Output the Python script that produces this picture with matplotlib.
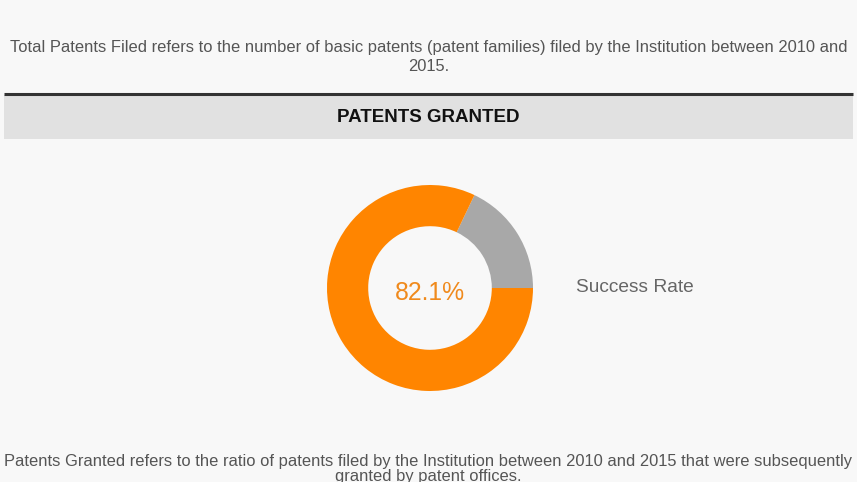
import matplotlib
matplotlib.use("Agg")
import matplotlib.pyplot as plt

W, H = 857, 482

# donut data (percent)
slice_labels = ["Granted", "Not granted"]
slice_values = [82.1, 17.9]
slice_colors = ["#ff8500", "#a8a8a8"]
center_label = "82.1%"
legend_label = "Success Rate"

filed_note = ("Total Patents Filed refers to the number of basic patents (patent families) "
              "filed by the Institution between 2010 and\n2015.")
granted_note = ("Patents Granted refers to the ratio of patents filed by the Institution "
                "between 2010 and 2015 that were subsequently\ngranted by patent offices.")
header = "PATENTS GRANTED"

plt.rcParams["font.family"] = ["Liberation Sans", "DejaVu Sans"]

fig = plt.figure(figsize=(W / 100, H / 100), dpi=100)
fig.patch.set_facecolor("#f8f8f8")

# page canvas in pixel coords (y down)
ax = fig.add_axes([0, 0, 1, 1])
ax.set_xlim(0, W)
ax.set_ylim(H, 0)
ax.axis("off")

ax.text(W / 2, 57, filed_note, ha="center", va="center", fontsize=11.9,
        color="#555555", linespacing=1.4)

# header band
ax.add_patch(plt.Rectangle((4, 95), W - 8, 44, facecolor="#e1e1e1", edgecolor="none"))
ax.plot([4, W - 4], [94, 94], color="#333333", linewidth=2.2, solid_capstyle="butt")
ax.text(W / 2, 117, header, ha="center", va="center", fontsize=13.5,
        fontweight="bold", color="#111111")

ax.text(W / 2, 469, granted_note, ha="center", va="center", fontsize=11.9,
        color="#555555", linespacing=1.05)

ax.text(576, 288, legend_label, ha="left", va="center", fontsize=13.8,
        color="#666666")

# donut
cx, cy, r = 430, 288, 103
dax = fig.add_axes([(cx - r) / W, (H - cy - r) / H, 2 * r / W, 2 * r / H])
dax.pie(slice_values[::-1], colors=slice_colors[::-1], startangle=0,
        counterclock=True, radius=1,
        wedgeprops=dict(width=0.4, edgecolor="none"))
dax.set_xlim(-1, 1)
dax.set_ylim(-1, 1)
dax.set_aspect("equal")
dax.axis("off")
dax.text(0, -0.05, center_label, ha="center", va="center", fontsize=17.8,
         color="#f08a1c")

fig.savefig("out.png", dpi=100, facecolor=fig.get_facecolor())
